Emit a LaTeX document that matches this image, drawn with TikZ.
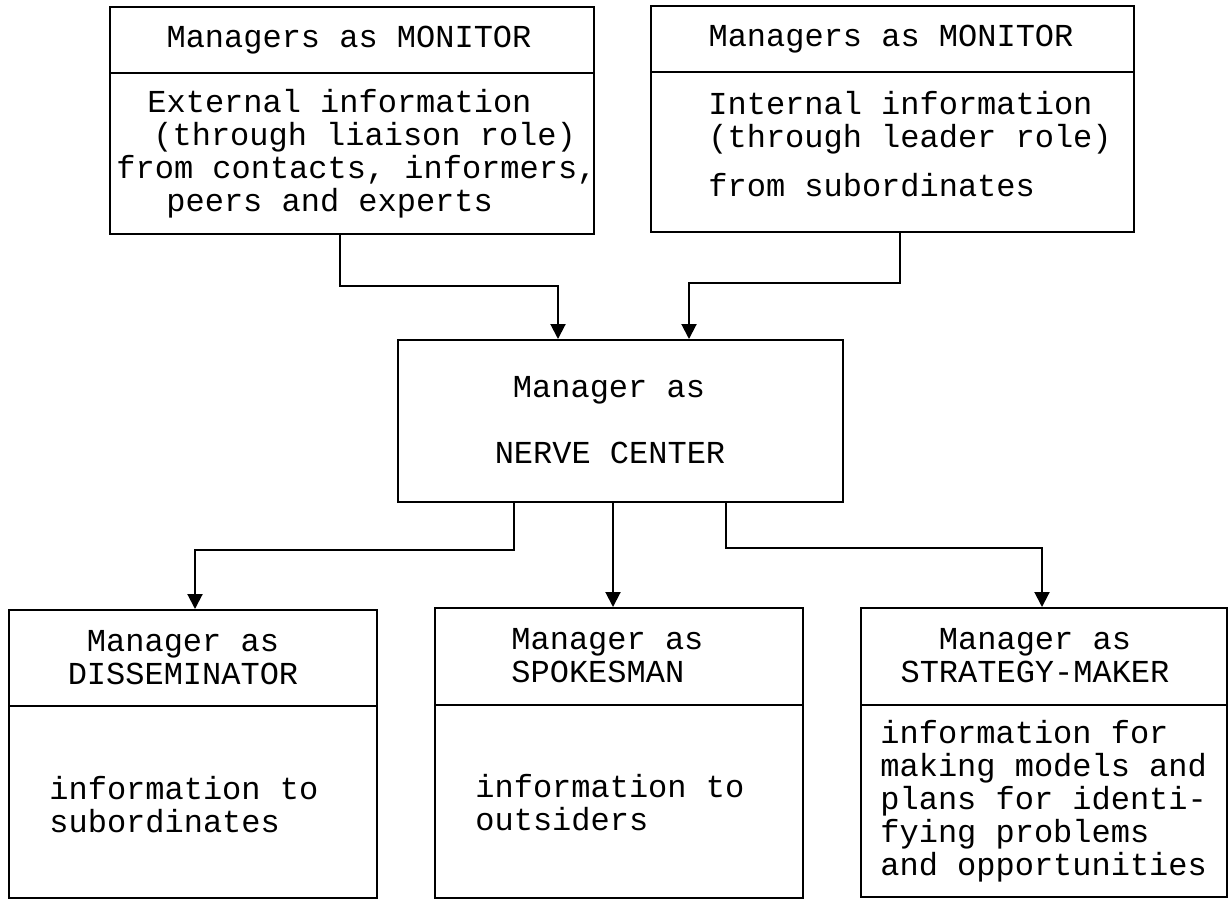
\documentclass[tikz,border=0pt]{standalone}
\usepackage{fontspec}
\setmonofont{Liberation Mono}
\usetikzlibrary{arrows.meta}
\begin{document}
\begin{tikzpicture}[x=0.5pt,y=-0.5pt,
  rolebox/.style={draw,line width=1pt,inner sep=0pt},
  txt/.style={font=\ttfamily\fontsize{16}{16.5}\selectfont,inner sep=0pt},
  arr/.style={line width=1pt,-{Triangle[width=7.5pt,length=7.5pt]}}]
\useasboundingbox (0,0) rectangle (1230,900);
\node[rolebox,minimum width=242pt,minimum height=113.5pt] (extmon) at (352,120.5) {};
\node[rolebox,minimum width=241.5pt,minimum height=113pt] (intmon) at (892.5,119) {};
\node[rolebox,minimum width=222.5pt,minimum height=81pt] (nc) at (620.5,421) {};
\node[rolebox,minimum width=184pt,minimum height=144pt] (dis) at (193,754) {};
\node[rolebox,minimum width=184pt,minimum height=145pt] (spk) at (619,753) {};
\node[rolebox,minimum width=183pt,minimum height=144.5pt] (str) at (1044,752.5) {};

\draw[line width=1pt] (extmon.west |- 0,73) -- (extmon.east |- 0,73);
\draw[line width=1pt] (intmon.west |- 0,72) -- (intmon.east |- 0,72);
\draw[line width=1pt] (dis.west |- 0,706) -- (dis.east |- 0,706);
\draw[line width=1pt] (spk.west |- 0,705) -- (spk.east |- 0,705);
\draw[line width=1pt] (str.west |- 0,705) -- (str.east |- 0,705);

\node[txt] (extmonhead) at (349,40) {Managers as MONITOR};
\node[txt,align=left,anchor=west] (extinfo) at (116,153.5)
  {\hspace*{15.5pt}External information\\\hspace*{18.5pt}(through liaison role)\\from contacts, informers,\\\hspace*{25pt}peers and experts};
\node[txt] (intmonhead) at (891,39) {Managers as MONITOR};
\node[txt,align=left,anchor=west] (intinfo) at (708,144)
  {Internal information\\(through leader role)\\[8pt]from subordinates};
\node[txt] (nchead) at (609,390) {Manager as};
\node[txt] (ncrole) at (610,453) {NERVE CENTER};
\node[txt,align=center] (dishead) at (183,657.5) {Manager as\\DISSEMINATOR};
\node[txt,align=left,anchor=west] (disinfo) at (49,804.5) {information to\\subordinates};
\node[txt,align=left,anchor=west] (spkhead) at (511,656) {Manager as\\SPOKESMAN};
\node[txt,align=left,anchor=west] (spkinfo) at (475,803) {information to\\outsiders};
\node[txt,align=center] (strhead) at (1035,655.5) {Manager as\\STRATEGY-MAKER};
\node[txt,align=left,anchor=west] (strinfo) at (880,801.5)
  {information for\\making models and\\plans for identi-\\fying problems\\and opportunities};

\draw[arr] (extmon.south -| 340,0) -- ++(0,51) -| (nc.north -| 558,0);
\draw[arr] (intmon.south -| 900,0) -- ++(0,50) -| (nc.north -| 689,0);
\draw[arr] (nc.south -| 514,0) -- ++(0,47) -| (dis.north -| 195,0);
\draw[arr] (nc.south -| 613,0) -- (spk.north -| 613,0);
\draw[arr] (nc.south -| 726,0) -- ++(0,45) -| (str.north -| 1042,0);
\end{tikzpicture}
\end{document}
